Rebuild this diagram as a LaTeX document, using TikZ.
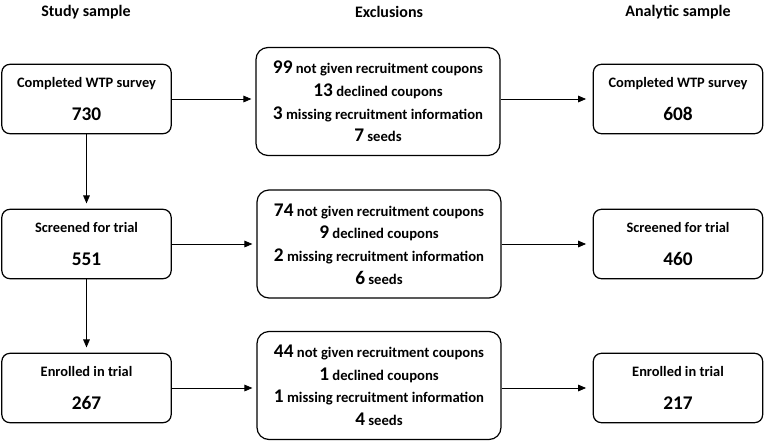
\documentclass[tikz,border=0pt]{standalone}
\usepackage{fontspec}
\setmainfont{Carlito}
\usetikzlibrary{arrows.meta}
\newcommand{\exnum}[1]{{\fontsize{14.5}{16}\selectfont #1}}

\begin{document}
\begin{tikzpicture}[x=0.75pt,y=-0.75pt,
    box/.style={rectangle,rounded corners=6pt,draw,line width=0.9pt,
      minimum width=127pt,minimum height=52pt,align=center,
      font=\bfseries\fontsize{10.8}{25}\selectfont},
    exbox/.style={rectangle,rounded corners=9pt,draw,line width=0.9pt,
      minimum width=183pt,minimum height=81pt,align=center,
      font=\bfseries\fontsize{11}{16.9}\selectfont},
    head/.style={font=\bfseries\fontsize{12}{14}\selectfont},
    arr/.style={-{Triangle[length=6pt,width=5pt]},line width=0.6pt}]
  \useasboundingbox (0,0) rectangle (764,440);
  % column heads
  \node[head] (hs) at (86,12) {Study sample};
  \node[head] (he) at (389,12) {Exclusions};
  \node[head] (ha) at (678,12) {Analytic sample};
  % study sample
  \node[box] (s1) at (86.5,99) {Completed WTP survey\\\exnum{730}};
  \node[box] (s2) at (86.5,244) {Screened for trial\\\exnum{551}};
  \node[box] (s3) at (86.5,388) {Enrolled in trial\\\exnum{267}};
  % exclusions
  \node[exbox] (e1) at (378,101.5) {\exnum{99} not given recruitment coupons\\
    \exnum{13} declined coupons\\\exnum{3} missing recruitment information\\
    \exnum{7} seeds};
  \node[exbox] (e2) at (379,244) {\exnum{74} not given recruitment coupons\\
    \exnum{9} declined coupons\\\exnum{2} missing recruitment information\\
    \exnum{6} seeds};
  \node[exbox] (e3) at (379,385.5) {\exnum{44} not given recruitment coupons\\
    \exnum{1} declined coupons\\\exnum{1} missing recruitment information\\
    \exnum{4} seeds};
  % analytic sample
  \node[box] (a1) at (678,99) {Completed WTP survey\\\exnum{608}};
  \node[box] (a2) at (678,244) {Screened for trial\\\exnum{460}};
  \node[box] (a3) at (678,388) {Enrolled in trial\\\exnum{217}};
  % arrows
  \draw[arr,shorten >=4pt] (s1) -- (s2);
  \draw[arr,shorten >=4pt] (s2) -- (s3);
  \draw[arr,shorten >=3pt] (s1.east) -- (s1.east -| e1.west);
  \draw[arr,shorten >=3pt] (s2.east) -- (s2.east -| e2.west);
  \draw[arr,shorten >=3pt] (s3.east) -- (s3.east -| e3.west);
  \draw[arr,shorten >=5pt] (e1.east |- a1.west) -- (a1.west);
  \draw[arr,shorten >=5pt] (e2.east |- a2.west) -- (a2.west);
  \draw[arr,shorten >=5pt] (e3.east |- a3.west) -- (a3.west);
\end{tikzpicture}
\end{document}
